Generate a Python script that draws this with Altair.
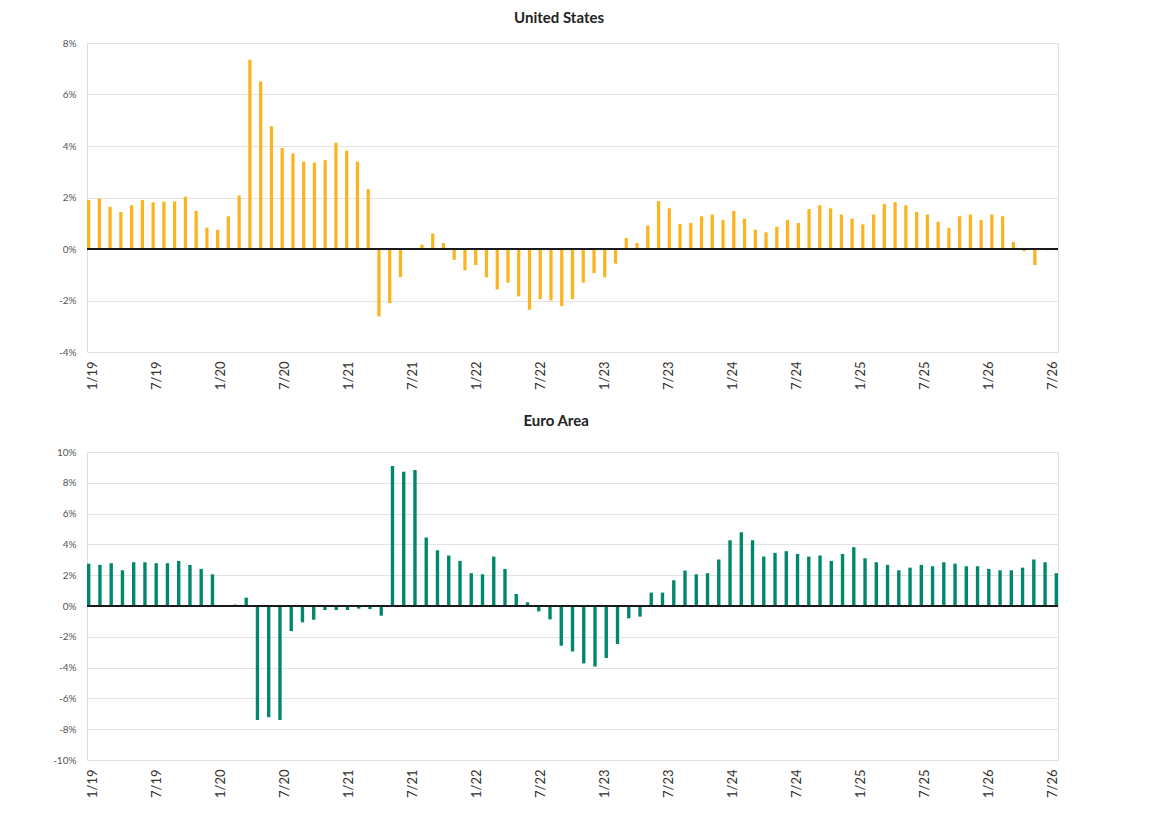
import altair as alt
import pandas as pd

# ---------------- data ----------------
years = [19, 20, 21, 22, 23, 24, 25, 26]
axis_months = [f"{m}/{y}" for y in years for m in range(1, 13)][:91]   # 1/19 .. 7/26
tick_labels = axis_months[::6]                                          # 1/19, 7/19, ... 7/26

us_months = axis_months
us_values = [
    1.90, 1.96, 1.64, 1.44, 1.70, 1.90, 1.81, 1.84, 1.84, 2.03,
    1.48, 0.83, 0.74, 1.27, 2.08, 7.35, 6.51, 4.77, 3.92, 3.71,
    3.39, 3.35, 3.45, 4.13, 3.82, 3.39, 2.32, -2.62, -2.10, -1.09,
    0.00, 0.17, 0.60, 0.23, -0.42, -0.83, -0.62, -1.10, -1.57, -1.31,
    -1.84, -2.36, -1.95, -2.00, -2.22, -1.95, -1.31, -0.94, -1.10, -0.57,
    0.43, 0.23, 0.91, 1.86, 1.58, 0.97, 1.01, 1.27, 1.34,
    1.12, 1.48, 1.18, 0.75, 0.65, 0.86, 1.12, 1.01, 1.55, 1.70,
    1.58, 1.34, 1.18, 0.96, 1.34, 1.75, 1.82, 1.70, 1.44, 1.34,
    1.06, 0.81, 1.27, 1.34, 1.12, 1.34, 1.27, 0.27, -0.09, -0.62,
    -0.05, -0.05,
]

eu_months = axis_months[:87]
eu_values = [
    2.75, 2.67, 2.78, 2.32, 2.84, 2.84, 2.78, 2.78, 2.93, 2.67,
    2.41, 2.06, -0.05, 0.09, 0.54, -7.40, -7.22, -7.40, -1.63, -1.06,
    -0.89, -0.26, -0.26, -0.26, -0.17, -0.20, -0.63, 9.09, 8.72, 8.83,
    4.45, 3.62, 3.28, 2.93, 2.13, 2.06, 3.21, 2.41, 0.78, 0.24,
    -0.35, -0.87, -2.58, -2.95, -3.73, -3.93, -3.38, -2.47, -0.80, -0.69,
    0.87, 0.87, 1.67, 2.30, 2.06, 2.13, 3.02, 4.27, 4.79, 4.27,
    3.21, 3.45, 3.56, 3.38, 3.21, 3.28, 2.93, 3.38, 3.82, 3.10,
    2.84, 2.67, 2.32, 2.49, 2.67, 2.58, 2.84, 2.75, 2.58, 2.58,
    2.41, 2.32, 2.32, 2.49, 3.02, 2.84, 2.13,
]

us_ticks = [-4, -2, 0, 2, 4, 6, 8]
eu_ticks = [-10, -8, -6, -4, -2, 0, 2, 4, 6, 8, 10]

US_COLOR = "#FBB41E"
EU_COLOR = "#00876C"
FONT = "Lato"
PAD_INNER = 0.7
W = 971


def panel(title, months, values, color, ticks, height, title_offset):
    df = pd.DataFrame({"month": months, "value": values})
    axis_df = pd.DataFrame({"month": axis_months})
    zero_df = pd.DataFrame({"z": [0]})
    yscale = alt.Scale(domain=[ticks[0], ticks[-1]], nice=False, zero=False)

    axis_layer = alt.Chart(axis_df).mark_point(opacity=0).encode(
        x=alt.X(
            "month:N",
            sort=axis_months,
            scale=alt.Scale(paddingInner=PAD_INNER, paddingOuter=0),
            axis=alt.Axis(
                values=tick_labels,
                labelAngle=270,
                labelFontSize=13,
                labelColor="#333333",
                labelFont=FONT,
                labelPadding=9,
                labelOverlap=False,
                domain=False,
                ticks=False,
                grid=False,
                title=None,
            ),
        ),
        y=alt.value(0),
    )

    bars = alt.Chart(df).mark_bar(color=color).encode(
        x=alt.X(
            "month:N",
            sort=months,
            scale=alt.Scale(paddingInner=PAD_INNER, paddingOuter=0),
            axis=None,
        ),
        y=alt.Y(
            "value:Q",
            scale=yscale,
            axis=alt.Axis(
                values=ticks,
                tickCount=len(ticks),
                labelExpr="datum.value + '%'",
                labelFontSize=10,
                labelColor="#555555",
                labelFont=FONT,
                labelPadding=11,
                labelOverlap=False,
                domain=False,
                ticks=False,
                grid=True,
                gridColor="#e2e2e2",
                gridWidth=1,
                title=None,
            ),
        ),
    )

    zero = alt.Chart(zero_df).mark_rule(color="#1a1a1a", strokeWidth=2).encode(
        y=alt.Y("z:Q", scale=yscale)
    )

    return (
        alt.layer(axis_layer, bars, zero)
        .resolve_scale(x="independent")
        .properties(
            width=W,
            height=height,
            title=alt.TitleParams(
                title,
                fontSize=15,
                fontWeight="bold",
                color="#222222",
                font=FONT,
                anchor="middle",
                frame="bounds",
                offset=title_offset,
            ),
        )
    )


us = panel("United States", us_months, us_values, US_COLOR, us_ticks, 309, 12)
eu = panel("Euro Area", eu_months, eu_values, EU_COLOR, eu_ticks, 308, 18)

chart = (
    alt.vconcat(us, eu, spacing=23)
    .properties(padding={"left": 44, "top": 2, "right": 5, "bottom": 5})
    .configure_view(stroke=None)
    .configure(font=FONT)
)

chart.save("out.html", embed_options={"renderer": "svg", "actions": False})
